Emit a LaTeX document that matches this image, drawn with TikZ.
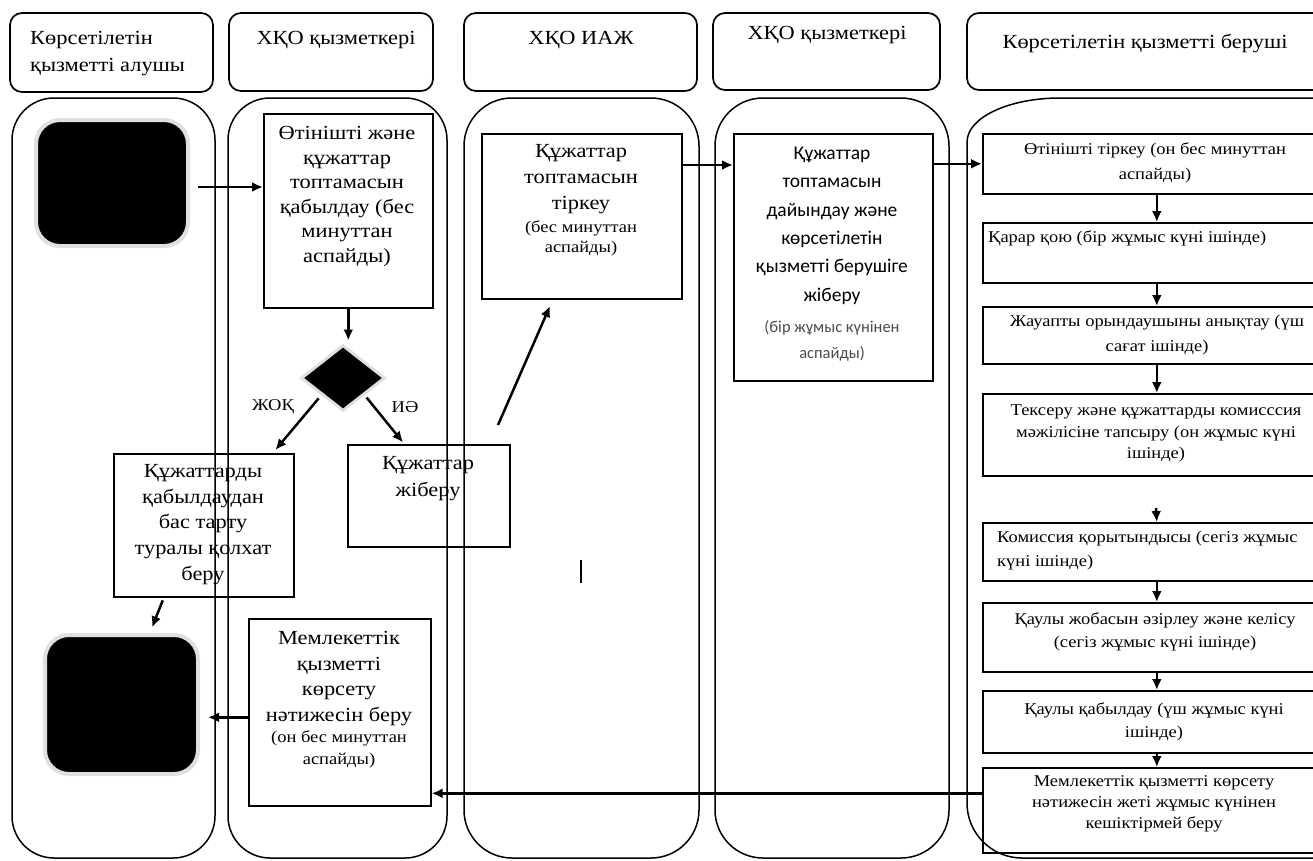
\documentclass[tikz,border=0pt]{standalone}
\usepackage{fontspec}
\setmainfont[FakeStretch=1.12]{Liberation Serif}
\newfontfamily\calfont{Carlito}
\usetikzlibrary{arrows.meta,shapes.geometric,calc}
\newcommand{\fl}{\vphantom{Ө}}
\begin{document}
\begin{tikzpicture}[x=1pt,y=1pt,
  lane/.style={draw, line width=1.5pt},
  hdr/.style={draw, rounded corners=12pt, line width=1.7pt},
  box/.style={draw, line width=1.6pt, inner sep=0pt, anchor=north west},
  blk/.style={fill=black, draw=black!12, line width=4pt, rounded corners=24pt, inner sep=0pt, anchor=north west},
  arr/.style={-{Latex[length=11pt,width=10pt]}, line width=2.5pt},
  tx/.style={inner sep=0pt, align=center, anchor=north},
  big/.style={font=\fontsize{20}{#1}\selectfont},
  sml/.style={font=\fontsize{16.5}{#1}\selectfont},
  cbig/.style={font=\calfont\fontsize{19.5}{#1}\selectfont},
  csml/.style={font=\calfont\fontsize{16.5}{#1}\selectfont, text=black!70},
]
\fill[white] (0,0) rectangle (1313,-860);
\useasboundingbox (0,0) rectangle (1313,-860);

% headers
\draw[hdr] (10,-13) rectangle (213,-92);
\draw[hdr] (229,-13) rectangle (433,-91);
\draw[hdr] (464,-13) rectangle (697,-91);
\draw[hdr] (713,-13) rectangle (940,-90);
\draw[hdr] (967,-13) rectangle (1340,-90);
\node[tx, big=27, anchor=north west, align=left] (h1) at (30,-31) {\fl Көрсетілетін\\қызметті алушы};
\node[tx, big=25] (h2) at (336,-31) {\fl ХҚО қызметкері};
\node[tx, big=25] (h3) at (581,-31) {\fl ХҚО ИАЖ};
\node[tx, big=25] (h4) at (827,-26) {\fl ХҚО қызметкері};
\node[tx, big=25] (h5) at (1145,-34) {\fl Көрсетілетін қызметті беруші};

% lanes
\draw[lane, rounded corners=42pt] (12,-98) rectangle (215,-858);
\draw[lane, rounded corners=42pt] (228,-98) rectangle (447,-858);
\draw[lane, rounded corners=48pt] (464,-98) rectangle (699,-858);
\draw[lane, rounded corners=48pt] (715,-98) rectangle (949,-858);
\draw[lane] (1340,-98) -- (1060,-98) arc[start angle=90, end angle=180, x radius=93, y radius=44]
  -- (967,-803) arc[start angle=180, end angle=270, radius=55] -- (1340,-858);

% start / end
\node[blk, minimum width=152pt, minimum height=126pt] (start) at (34,-118) {};
\node[blk, minimum width=153pt, minimum height=139pt] (end) at (43,-633) {};

% lane 2 boxes
\node[box, minimum width=169pt, minimum height=194pt] (recv) at (263,-113) {};
\node[tx, big=24.6] (recvt) at (347,-126) {\fl Өтінішті және\\құжаттар\\топтамасын\\қабылдау (бес\\минуттан\\аспайды)};
\node[diamond, fill=black, draw=black!12, line width=3pt, inner sep=0pt, minimum width=84pt, minimum height=66pt] (dia) at (343,-378) {};
\node[tx, sml=20, anchor=center] (no) at (273,-407) {ЖОҚ};
\node[tx, sml=20, anchor=center] (yes) at (405,-407) {ИӘ};
\node[box, minimum width=180pt, minimum height=143pt] (refuse) at (113,-453) {};
\node[tx, big=25.75] (refuset) at (203,-464) {\fl Құжаттарды\\қабылдаудан\\бас тарту\\туралы қолхат\\беру};
\node[box, minimum width=162pt, minimum height=102pt] (send) at (347,-444) {};
\node[tx, big=27] (sendt) at (428,-456) {\fl Құжаттар\\жіберу};
\node[box, minimum width=182pt, minimum height=187pt] (result) at (248,-618) {};
\node[tx, big=25.7] (resultt) at (339,-631) {\fl Мемлекеттік\\қызметті\\көрсету\\нәтижесін беру};
\node[tx, sml=22] (results) at (339,-730.6) {\fl (он бес минуттан\\аспайды)};

% lane 3
\node[box, minimum width=200pt, minimum height=165pt] (reg) at (481,-133) {};
\node[tx, big=26] (regt) at (581,-144) {\fl Құжаттар\\топтамасын\\тіркеу};
\node[tx, sml=20] (regs) at (581,-220.6) {\fl (бес минуттан\\аспайды)};
\coordinate (m1) at (581,-560);
\coordinate (m2) at (581,-583);
\draw[line width=1.3pt] (m1) -- (m2);

% lane 4
\node[box, minimum width=199pt, minimum height=247pt] (prep) at (733,-133) {};
\node[tx, cbig=28.4] (prept) at (832,-146.5) {\fl Құжаттар\\топтамасын\\дайындау және\\көрсетілетін\\қызметті берушіге\\жіберу};
\node[tx, csml=26] (preps) at (832,-319.8) {\fl (бір жұмыс күнінен\\аспайды)};

% lane 5
\node[box, minimum width=348pt, minimum height=60pt] (r1) at (982,-133) {};
\node[box, minimum width=348pt, minimum height=60pt] (r2) at (982,-222) {};
\node[box, minimum width=348pt, minimum height=57pt] (r3) at (982,-306) {};
\node[box, minimum width=348pt, minimum height=82pt] (r4) at (982,-393) {};
\node[box, minimum width=348pt, minimum height=58pt] (r5) at (982,-522) {};
\node[box, minimum width=348pt, minimum height=69pt] (r6) at (982,-602) {};
\node[box, minimum width=348pt, minimum height=62pt] (r7) at (982,-690) {};
\node[box, minimum width=348pt, minimum height=85pt] (r8) at (982,-767) {};
\node[tx, sml=25] (r1t) at (1155,-142.6) {\fl Өтінішті тіркеу (он бес минуттан\\аспайды)};
\node[tx, sml=25, anchor=north west] (r2t) at (988,-230.6) {\fl Қарар қою (бір жұмыс күні ішінде)};
\node[tx, sml=25] (r3t) at (1157,-314.6) {\fl Жауапты орындаушыны анықтау (үш\\сағат ішінде)};
\node[tx, sml=21.5] (r4t) at (1156,-404.6) {\fl Тексеру және құжаттарды комисссия\\мәжілісіне тапсыру (он жұмыс күні\\ішінде)};
\node[tx, sml=24, anchor=north west, align=left] (r5t) at (997,-530.6) {\fl Комиссия қорытындысы (сегіз жұмыс\\күні ішінде)};
\node[tx, sml=23] (r6t) at (1155,-612.6) {\fl Қаулы жобасын әзірлеу және келісу\\(сегіз жұмыс күні ішінде)};
\node[tx, sml=23] (r7t) at (1154,-702.6) {\fl Қаулы қабылдау (үш жұмыс күні\\ішінде)};
\node[tx, sml=21] (r8t) at (1154,-775.6) {\fl Мемлекеттік қызметті көрсету\\нәтижесін жеті жұмыс күнінен\\кешіктірмей беру};

% connectors
\draw[arr, shorten <=8pt] ([yshift=-4pt]start.east) -- ([yshift=-4pt]start.east -| recv.west);
\draw[arr, shorten >=3pt] (recv.south) -- (recv.south |- dia.north);
\draw[arr, shorten <=4pt, shorten >=4pt] (dia.south west) -- ($(refuse.north west)!0.88!(refuse.north east)$);
\draw[arr, shorten <=3pt, shorten >=2pt] (dia.south east) -- ($(send.north west)!0.35!(send.north east)$);
\coordinate (sr1) at (498,-425);
\coordinate (sr2) at (550,-306);
\draw[arr] (sr1) -- (sr2);
\draw[arr] ([yshift=-32pt]reg.north east) -- ([yshift=-32pt]prep.north west);
\draw[arr] (prep.north east |- r1.west) -- (r1.west);
\draw[arr] (r1.south) -- (r2.north);
\draw[arr] (r2.south) -- (r3.north);
\draw[arr] (r3.south) -- (r4.north);
\coordinate (c45) at (1156,-508);
\draw[arr] (c45) -- (r5.north);
\draw[arr] (r5.south) -- (r6.north);
\draw[arr] (r6.south) -- (r7.north);
\draw[arr] (r7.south) -- (r8.north);
\coordinate (r8w) at ([yshift=17pt]r8.west);
\draw[arr, line width=2.8pt] (r8w) -- (r8w -| result.east);
\draw[arr, shorten >=8pt] ([yshift=-5pt]result.west) -- ([yshift=-5pt]result.west -| end.east);
\draw[arr, shorten <=3pt, shorten >=6pt] ($(refuse.south west)!0.28!(refuse.south east)$) -- ($(end.north west)!0.68!(end.north east)$);
\end{tikzpicture}
\end{document}
